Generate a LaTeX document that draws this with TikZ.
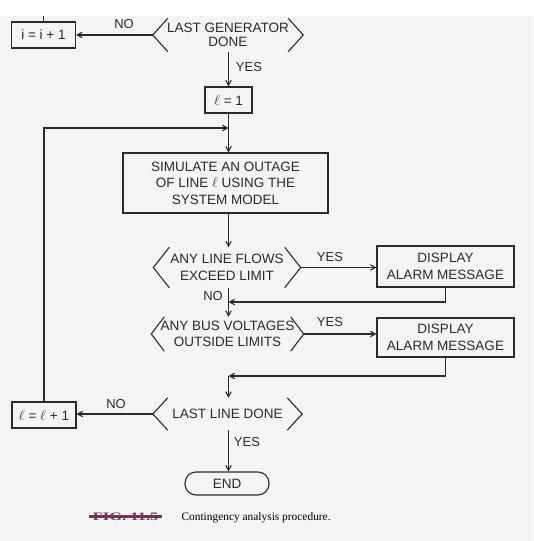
\documentclass[tikz,border=0pt]{standalone}
\usepackage{fontspec}
\setmainfont{Liberation Sans}
\newfontfamily\capfont{Liberation Serif}
\usetikzlibrary{arrows.meta}
\definecolor{ink}{HTML}{2A2A2A}
\definecolor{page}{HTML}{F4F4F4}
\definecolor{scrib}{HTML}{6E3552}
\begin{document}
\begin{tikzpicture}[x=1pt,y=-1pt,
  every node/.style={font=\fontsize{13.5}{16.5}\selectfont, text=ink},
  box/.style={draw=ink, line width=1.1pt, align=center, inner sep=0pt},
  dec/.style={align=center, inner sep=0pt},
  chev/.style={draw=ink, line width=1.1pt},
  line/.style={draw=ink, line width=1.1pt},
  arr/.style={line, -{Straight Barb[length=5pt,width=5.5pt]}},
  lbl/.style={font=\fontsize{13}{15}\selectfont}]
\useasboundingbox (0,0) rectangle (533,541);
\fill[page] (0,16) rectangle (533,541);

% nodes
\node[box, minimum width=64pt, minimum height=26pt] (inc) at (43.5,35) {i = i + 1};
\node[dec, minimum width=150pt, minimum height=33pt, font=\fontsize{13.5}{14.5}\selectfont] (lg) at (228,35) {LAST GENERATOR\\DONE};
\node[box, minimum width=47pt, minimum height=26pt] (l1) at (228.5,100) {$\ell$ = 1};
\node[box, minimum width=205pt, minimum height=60pt] (sim) at (225.5,183) {SIMULATE AN OUTAGE\\OF LINE $\ell$ USING THE\\SYSTEM MODEL};
\node[dec, minimum width=147pt, minimum height=40pt] (d1) at (227,267.5) {ANY LINE FLOWS\\EXCEED LIMIT};
\node[box, minimum width=137pt, minimum height=41pt] (dp1) at (445.5,266.5) {DISPLAY\\ALARM MESSAGE};
\node[dec, minimum width=152pt, minimum height=34pt] (d2) at (227.5,334) {ANY BUS VOLTAGES\\OUTSIDE LIMITS};
\node[box, minimum width=137pt, minimum height=39pt] (dp2) at (445.5,337.5) {DISPLAY\\ALARM MESSAGE};
\node[dec, minimum width=149pt, minimum height=32pt] (d3) at (227.5,414) {LAST LINE DONE};
\node[box, minimum width=64pt, minimum height=26pt] (inc2) at (44,415) {$\ell$ = $\ell$ + 1};
\node[box, rounded corners=11pt, minimum width=84pt, minimum height=23pt] (end) at (227,483.5) {END};

% chevrons of the decisions
\foreach \n/\w in {lg/15,d1/16,d2/13,d3/15}
  \draw[chev] ([xshift=\w pt]\n.north west) -- (\n.west) -- ([xshift=\w pt]\n.south west)
              ([xshift=-\w pt]\n.north east) -- (\n.east) -- ([xshift=-\w pt]\n.south east);

% coordinates
\coordinate (topend) at (43.5,16);
\coordinate (join) at (228.5,128);
\coordinate (m1) at (228.5,302);
\coordinate (m2) at (228.5,376);

% connectors
\draw[line] (inc.north) -- (topend);
\draw[arr] (lg.west) -- (lg.west -| inc.east);
\draw[arr] (lg.south -| l1.north) -- (l1.north);
\draw[arr] (l1.south) -- (l1.south |- sim.north);
\draw[arr] (inc2.north) |- (join);
\draw[arr] (sim.south -| l1.south) -- (d1.north -| l1.south);
\draw[arr] (d1.east) -- (d1.east -| dp1.west);
\draw[arr] (d1.south -| l1.south) -- (d2.north -| l1.south);
\draw[arr] (dp1.south) |- (m1);
\draw[arr] (d2.east) -- (d2.east -| dp2.west);
\draw[arr] (dp2.south) |- (m2);
\draw[arr] (m2) -- (d3.north -| l1.south);
\draw[arr] (d3.west) -- (d3.west -| inc2.east);
\draw[arr] (d3.south -| l1.south) -- (end.north -| l1.south);

% labels
\node[lbl] (no0) at (124,24) {NO};
\node[lbl] (yes0) at (249,67) {YES};
\node[lbl] (yes1) at (330,257) {YES};
\node[lbl] (no1) at (213,296) {NO};
\node[lbl] (yes2) at (330,322) {YES};
\node[lbl] (no2) at (116,404) {NO};
\node[lbl] (yes3) at (247,442) {YES};

% caption
\node[anchor=base west, font=\capfont\fontsize{11.4}{13}\selectfont, text=black] (cap) at (178,520) {Contingency analysis procedure.};
\node[anchor=base east, font=\capfont\bfseries\fontsize{11.4}{13}\selectfont, text=scrib] (fig) at (162,520) {\scalebox{1.45}[1]{FIG. 11.5}};
\draw[scrib, line width=2.2pt] ([yshift=3.5pt]fig.base west) -- ([yshift=3.5pt]fig.base east);
\end{tikzpicture}
\end{document}
